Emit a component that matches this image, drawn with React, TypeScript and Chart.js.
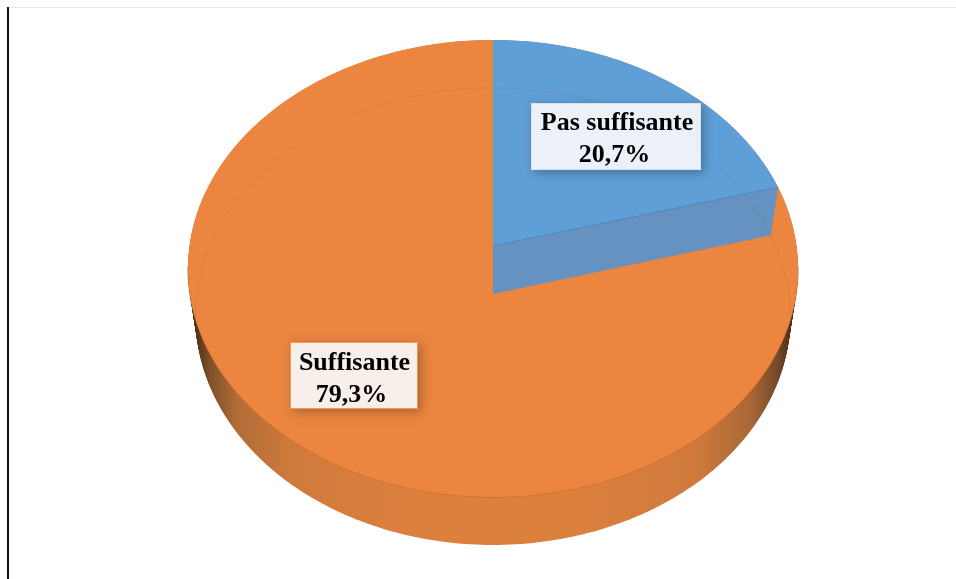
import React, { useEffect, useRef } from "react";
import { Chart, registerables } from "chart.js";

Chart.register(...registerables);

const categories = ["Pas suffisante", "Suffisante"];
const shares = [20.7, 79.3];
const faceColors = ["#5F9FD7", "#EB8540"];

const W = 956;
const H = 579;
const CX = 493;
const PERSP = -45 / 457;

// perspective disc: maps a unit-circle point to the page
type Disc = { a: number; b: number; k: number };
const TOP: Disc = { a: 202.1, b: 246, k: 303.5 };
const BOTTOM: Disc = { a: 197.3, b: 294, k: 296 };
const project = (d: Disc, angle: number, r = 1) => {
  const x = Math.cos(angle) * r;
  const y = Math.sin(angle) * r;
  const w = PERSP * y + 1;
  return { x: CX + (d.k * x) / w, y: (d.a * y + d.b) / w };
};
const lerpDisc = (t: number): Disc => ({
  a: TOP.a + (BOTTOM.a - TOP.a) * t,
  b: TOP.b + (BOTTOM.b - TOP.b) * t,
  k: TOP.k + (BOTTOM.k - TOP.k) * t,
});

const discPath = (ctx: CanvasRenderingContext2D, d: Disc, from = 0, to = 360, close = true) => {
  ctx.beginPath();
  for (let i = from; i <= to; i++) {
    const p = project(d, (i / 180) * Math.PI);
    if (i === from) ctx.moveTo(p.x, p.y);
    else ctx.lineTo(p.x, p.y);
  }
  if (close) ctx.closePath();
};
const slicePath = (ctx: CanvasRenderingContext2D, d: Disc, start: number, end: number) => {
  ctx.beginPath();
  const c = project(d, 0, 0);
  ctx.moveTo(c.x, c.y);
  const n = Math.max(8, Math.ceil(((end - start) / Math.PI) * 180));
  for (let i = 0; i <= n; i++) {
    const p = project(d, start + ((end - start) * i) / n);
    ctx.lineTo(p.x, p.y);
  }
  ctx.closePath();
};

const labelBoxes = [
  { x: 531, y: 103, w: 170, h: 67, fill: "#ECF1F9", edge: "#D5E2F2", cx: 617, cx2: 614.5, y1: 130, y2: 162 },
  { x: 290, y: 342, w: 128, h: 67, fill: "#F9EFEA", edge: "#F0995F", cx: 354.5, cx2: 351.5, y1: 370, y2: 402 },
];

const perspectivePie = {
  id: "perspectivePie",
  beforeDatasetsDraw(chart: any) {
    const ctx: CanvasRenderingContext2D = chart.ctx;
    const arcs = chart.getDatasetMeta(0).data;
    const colors = chart.data.datasets[0].backgroundColor;
    ctx.save();

    // rim
    const g = ctx.createLinearGradient(195, 0, 792, 0);
    g.addColorStop(0, "#4B3018");
    g.addColorStop(0.025, "#7F5029");
    g.addColorStop(0.07, "#B06C37");
    g.addColorStop(0.16, "#CF7A3C");
    g.addColorStop(0.35, "#DC803E");
    g.addColorStop(0.65, "#DC803E");
    g.addColorStop(0.84, "#CF7A3C");
    g.addColorStop(0.93, "#A96836");
    g.addColorStop(0.975, "#75492A");
    g.addColorStop(1, "#4B3018");
    ctx.fillStyle = g;
    for (let i = 48; i >= 1; i--) {
      discPath(ctx, lerpDisc(i / 48));
      ctx.fill();
    }

    // top face
    discPath(ctx, TOP);
    ctx.fillStyle = colors[1];
    ctx.fill();
    // seam between face and rim, near side only
    discPath(ctx, TOP, 5, 175, false);
    ctx.strokeStyle = "rgba(205,100,35,0.8)";
    ctx.lineWidth = 1.2;
    ctx.stroke();

    // slices, angles come from the library's arc elements
    arcs.forEach((arc: any, i: number) => {
      const { startAngle, endAngle } = arc.getProps(["startAngle", "endAngle"]);
      slicePath(ctx, TOP, startAngle, endAngle);
      ctx.fillStyle = colors[i];
      ctx.fill();
    });

    // cut face of the small slice
    const first = arcs[0].getProps(["startAngle", "endAngle"]);
    const t0 = project(TOP, 0, 0);
    const t1 = project(TOP, first.endAngle);
    const b0 = project(BOTTOM, 0, 0);
    const b1 = project(BOTTOM, first.endAngle);
    ctx.beginPath();
    ctx.moveTo(t0.x, t0.y);
    ctx.lineTo(t1.x, t1.y);
    ctx.lineTo(b1.x, b1.y);
    ctx.lineTo(b0.x, b0.y);
    ctx.closePath();
    ctx.fillStyle = "#6592C0";
    ctx.fill();
    ctx.beginPath();
    ctx.moveTo(t0.x, t0.y);
    ctx.lineTo(t1.x, t1.y);
    ctx.strokeStyle = "#4A86C4";
    ctx.lineWidth = 1;
    ctx.stroke();

    // far rim showing through the face
    ctx.save();
    discPath(ctx, TOP);
    ctx.clip();
    discPath(ctx, BOTTOM);
    ctx.strokeStyle = "rgba(150,85,50,0.13)";
    ctx.lineWidth = 1;
    ctx.stroke();
    ctx.restore();

    // labels
    ctx.font = 'bold 26px "Liberation Serif"';
    ctx.textBaseline = "alphabetic";
    ctx.textAlign = "center";
    labelBoxes.forEach((b, i) => {
      ctx.save();
      ctx.shadowColor = "rgba(0,0,0,0.28)";
      ctx.shadowBlur = 10;
      ctx.shadowOffsetX = 3;
      ctx.shadowOffsetY = 3;
      ctx.fillStyle = b.fill;
      ctx.fillRect(b.x, b.y, b.w, b.h);
      ctx.restore();
      ctx.strokeStyle = b.edge;
      ctx.lineWidth = 1;
      ctx.strokeRect(b.x + 0.5, b.y + 0.5, b.w - 1, b.h - 1);
      ctx.fillStyle = "#000000";
      const pct = String(chart.data.datasets[0].data[i]).replace(".", ",") + "%";
      ctx.fillText(chart.data.labels[i], b.cx, b.y1);
      ctx.fillText(pct, b.cx2, b.y2);
    });
    ctx.restore();
    return false;
  },
};

export default function App() {
  const ref = useRef<HTMLCanvasElement>(null);
  useEffect(() => {
    document.body.style.margin = "0";
    const chart = new Chart(ref.current!, {
      type: "pie",
      data: {
        labels: categories,
        datasets: [{ data: shares, backgroundColor: faceColors, borderWidth: 0 }],
      },
      options: {
        responsive: false,
        animation: false,
        plugins: { legend: { display: false }, tooltip: { enabled: false } },
      },
      plugins: [perspectivePie],
    });
    return () => chart.destroy();
  }, []);
  return (
    <div style={{ position: "relative", width: W, height: H, overflow: "hidden", background: "#fff" }}>
      <canvas ref={ref} width={W} height={H} style={{ display: "block", filter: "blur(0.5px)" }} />
      <div style={{ position: "absolute", left: 8, right: 0, top: 7, height: 1, background: "#E8E8E8" }} />
      <div style={{ position: "absolute", left: 7, top: 7, bottom: 0, width: 2, background: "#111" }} />
    </div>
  );
}
